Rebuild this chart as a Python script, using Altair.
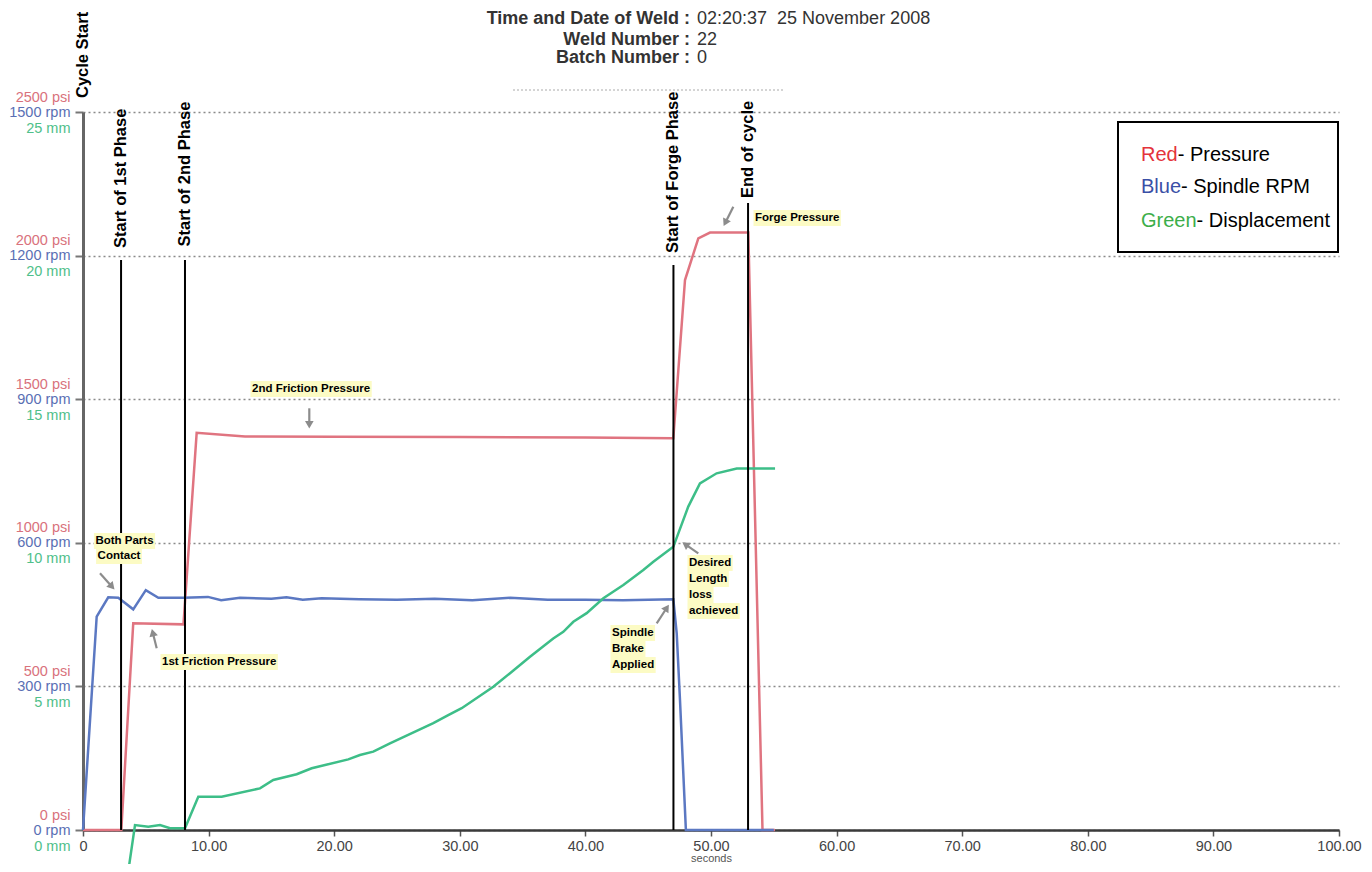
import math
import altair as alt
import pandas as pd

# ---------------- series ----------------
# Red - pressure (psi) against time (seconds)
pressure_s = [0.0, 3.05, 4.0, 8.0, 9.05, 12.9, 20.0, 30.0, 40.0, 47.0, 47.93, 48.99, 49.92, 52.97, 54.1, 55.1]
pressure_psi = [0, 0, 720, 716, 1383, 1370, 1369, 1368, 1367, 1364, 1915, 2060, 2080, 2080, 0, 0]

# Blue - spindle speed (rpm)
rpm_s = [0.0, 1.09, 2.01, 2.81, 4.0, 5.0, 6.0, 8.0, 9.95, 11.0, 12.5, 15.0, 16.2, 17.5, 19.0, 22.0, 25.0,
         28.0, 31.0, 34.0, 37.0, 40.0, 43.0, 45.0, 47.0, 47.27, 47.53, 48.0, 55.0]
rpm_val = [0, 446, 486, 485, 461, 501, 485, 485, 487, 480, 485, 483, 486, 481, 484, 482, 481,
           483, 480, 485, 481, 481, 480, 481, 482, 411, 272, 0, 0]

# Green - displacement (mm)
disp_s = [3.55, 4.14, 5.2, 6.13, 6.93, 8.12, 9.18, 11.04, 14.09, 15.15, 17.01, 18.21, 21.12, 22.05, 23.11,
          24.44, 27.89, 29.08, 30.15, 32.67, 34.0, 35.59, 37.44, 38.24, 39.04, 40.1, 41.43, 43.02, 44.61,
          45.41, 47.0, 48.19, 49.12, 50.45, 52.05, 55.1]
disp_mm = [-1.6, 0.17, 0.11, 0.17, 0.06, 0.06, 1.16, 1.16, 1.45, 1.74, 1.94, 2.15, 2.46, 2.61, 2.73,
           3.02, 3.72, 4.00, 4.24, 4.99, 5.46, 6.03, 6.67, 6.90, 7.25, 7.55, 8.07, 8.53, 9.05,
           9.34, 9.86, 11.26, 12.07, 12.42, 12.59, 12.59]

# ---------------- ticks ----------------
psi_ticks = [0, 500, 1000, 1500, 2000, 2500]
rpm_ticks = [0, 300, 600, 900, 1200, 1500]
mm_ticks = [0, 5, 10, 15, 20, 25]
sec_ticks = [0, 10, 20, 30, 40, 50, 60, 70, 80, 90, 100]

# ---------------- events ----------------
event_s = [0.0, 3.03, 8.12, 47.01, 52.95]
event_names = ["Cycle Start", "Start of 1st Phase", "Start of 2nd Phase", "Start of Forge Phase", "End of cycle"]

# ---------------- header / legend / notes text ----------------
header_keys = ["Time and Date of Weld :", "Weld Number :", "Batch Number :"]
header_vals = ["02:20:37\u00a0\u00a025 November 2008", "22", "0"]
legend_words = ["Red", "Blue", "Green"]
legend_rest = ["- Pressure", "- Spindle RPM", "- Displacement"]
note_lines = ["Both Parts", "Contact", "1st Friction Pressure", "2nd Friction Pressure", "Forge Pressure",
              "Spindle", "Brake", "Applied", "Desired", "Length", "loss", "achieved"]

# ---------------- styling / layout (pixels inside the plot area) ----------------
W, H = 1256, 718
FONT = "Liberation Sans"
RED, BLUE, GREEN = "#e07480", "#5b78c2", "#3dbe88"
RED_T, BLUE_T, GREEN_T = "#d9727c", "#5a6fb4", "#4fc08a"

event_line_top = [None, 148, 148, 153, 91]
event_label_bottom = [-14, 136, 134.5, 141, 86]

note_x = [41.5, 36, 79, 169, 672, 529, 529, 529, 606, 606, 606, 606]
note_y = [429, 444, 550, 277, 106, 521, 537, 553, 451, 467, 483, 499]
note_align = ["center", "center", "left", "left", "left", "left", "left", "left", "left", "left", "left", "left"]

# arrows: tail -> head (pixels inside the plot)
arrow_tail = [(17, 461.3), (73.7, 536.3), (226.3, 296.3), (650.3, 94.7), (573.7, 511.3), (615.3, 441.3)]
arrow_head = [(32, 478), (68.7, 516.3), (226.3, 317.3), (640.3, 114.7), (586.3, 492), (598.7, 429.7)]

ARIAL_BOLD = {"a": .556, "b": .611, "c": .556, "d": .611, "e": .556, "f": .333, "g": .611, "h": .611,
              "i": .278, "k": .556, "l": .278, "m": .889, "n": .611, "o": .611, "p": .611, "r": .389,
              "s": .556, "t": .333, "u": .611, "v": .556, "B": .722, "C": .722, "D": .722, "F": .611,
              "L": .611, "P": .667, "S": .667, "A": .722, "1": .556, "2": .556, " ": .278}
NOTE_SIZE = 11.5


def text_w(s, size):
    return sum(ARIAL_BOLD.get(c, .6) for c in s) * size


# ---------------- tables ----------------
pressure_df = pd.DataFrame({"s": pressure_s, "v": pressure_psi})
rpm_df = pd.DataFrame({"s": rpm_s, "v": rpm_val})
disp_df = pd.DataFrame({"s": disp_s, "v": disp_mm})

ev_lines = pd.DataFrame({"s": event_s[1:], "top": event_line_top[1:], "bot": [H] * 4})
ev_labels = pd.DataFrame({"s": event_s, "y": event_label_bottom, "t": event_names})

notes = pd.DataFrame({"x": note_x, "y": note_y, "t": note_lines, "a": note_align})
hl_rows = []
for x, y, t, a in zip(note_x, note_y, note_lines, note_align):
    w = text_w(t, NOTE_SIZE)
    x0 = x - w / 2 if a == "center" else x
    hl_rows.append({"x": x0 - 1.5, "x2": x0 + w + 1.5, "y": y - 8, "y2": y + 8})
hl_df = pd.DataFrame(hl_rows)

shaft_rows, head_rows = [], []
for (tx, ty), (hx, hy) in zip(arrow_tail, arrow_head):
    dx, dy = hx - tx, hy - ty
    L = math.hypot(dx, dy)
    ux, uy = dx / L, dy / L
    cx, cy = hx - ux * 4.5, hy - uy * 4.5
    shaft_rows.append({"x": tx, "y": ty, "x2": cx, "y2": cy})
    ang = (math.degrees(math.atan2(dx, -dy)) + 360) % 360
    head_rows.append({"x": cx, "y": cy, "ang": ang})
shaft_df = pd.DataFrame(shaft_rows)
head_df = pd.DataFrame(head_rows)

header_df = pd.DataFrame({"k": header_keys, "v": header_vals, "y": [-93.5, -72.5, -54]})
legend_df = pd.DataFrame({"w": legend_words, "r": legend_rest, "y": [43, 75, 109],
                          "c": [0, 1, 2]})

# ---------------- encodings ----------------
x_axis = alt.Axis(values=sec_ticks, labelExpr="datum.value == 0 ? '0' : format(datum.value, '.2f')",
                  title="seconds", titleFont=FONT, titleFontSize=11, titleFontWeight="normal",
                  titleColor="#555", titlePadding=0, labelFont=FONT, labelFontSize=14.5,
                  labelColor="#444", labelFlush=False, labelPadding=3, tickSize=6, tickColor="#555",
                  tickWidth=1.5, domainColor="#3a3a3a", domainWidth=2.5, grid=False, zindex=0)
x_scale = alt.Scale(domain=[0, 100], nice=False, zero=False)


def y_axis(values, unit, color, offset, ticks_visible=False, domain=False, grid=False):
    return alt.Axis(orient="left", values=values, labelExpr="datum.value + ' " + unit + "'",
                    labelColor=color, labelOffset=offset, labelFont=FONT, labelFontSize=14.5,
                    labelPadding=5, labelAlign="right", labelBaseline="middle",
                    ticks=True, tickSize=8, tickWidth=2, tickColor="#777",
                    tickOpacity=1 if ticks_visible else 0,
                    domain=domain, domainColor="#666", domainWidth=3,
                    grid=grid, gridColor="#8a8a8a", gridDash=[2, 3], gridWidth=1.5,
                    title=None, zindex=0)


psi_layer = alt.Chart(pressure_df).mark_line(color=RED, strokeWidth=2.5).encode(
    x=alt.X("s:Q", scale=x_scale, axis=x_axis),
    y=alt.Y("v:Q", scale=alt.Scale(domain=[0, 2500], nice=False),
            axis=y_axis(psi_ticks, "psi", RED_T, -15)),
)
rpm_layer = alt.Chart(rpm_df).mark_line(color=BLUE, strokeWidth=2.5).encode(
    x=alt.X("s:Q", scale=x_scale),
    y=alt.Y("v:Q", scale=alt.Scale(domain=[0, 1500], nice=False),
            axis=y_axis(rpm_ticks, "rpm", BLUE_T, 0, ticks_visible=True, domain=True)),
)
mm_layer = alt.Chart(disp_df).mark_line(color=GREEN, strokeWidth=2.5).encode(
    x=alt.X("s:Q", scale=x_scale),
    y=alt.Y("v:Q", scale=alt.Scale(domain=[0, 25], nice=False),
            axis=y_axis(mm_ticks, "mm", GREEN_T, 16, grid=True)),
)

px = lambda f: alt.X(f, scale=None, axis=None)
py = lambda f: alt.Y(f, scale=None, axis=None)

event_rules = alt.Chart(ev_lines).mark_rule(color="black", strokeWidth=2).encode(
    x=alt.X("s:Q", scale=x_scale), y=py("top:Q"), y2="bot:Q")
event_text = alt.Chart(ev_labels).mark_text(
    angle=270, align="left", baseline="middle", font=FONT, fontSize=16.5, fontWeight="bold", color="black"
).encode(x=alt.X("s:Q", scale=x_scale), y=py("y:Q"), text="t:N")

highlight = alt.Chart(hl_df).mark_rect(color="#fcfbc4").encode(
    x=px("x:Q"), x2="x2:Q", y=py("y:Q"), y2="y2:Q")
note_base = alt.Chart(notes)
note_c = note_base.transform_filter("datum.a == 'center'").mark_text(
    align="center", baseline="middle", font=FONT, fontSize=NOTE_SIZE, fontWeight="bold", color="black"
).encode(x=px("x:Q"), y=py("y:Q"), text="t:N")
note_l = note_base.transform_filter("datum.a == 'left'").mark_text(
    align="left", baseline="middle", font=FONT, fontSize=NOTE_SIZE, fontWeight="bold", color="black"
).encode(x=px("x:Q"), y=py("y:Q"), text="t:N")

arrow_shaft = alt.Chart(shaft_df).mark_rule(color="#8c8c8c", strokeWidth=2.2).encode(
    x=px("x:Q"), y=py("y:Q"), x2="x2:Q", y2="y2:Q")
arrow_head_l = alt.Chart(head_df).mark_point(shape="triangle-up", filled=True, color="#8c8c8c",
                                             opacity=1, size=75).encode(
    x=px("x:Q"), y=py("y:Q"), angle=alt.Angle("ang:Q", scale=None))

header_k = alt.Chart(header_df).mark_text(align="right", baseline="middle", font=FONT, fontSize=18,
                                          fontWeight="bold", color="#333").encode(
    x=alt.value(607), y=py("y:Q"), text="k:N")
header_v = alt.Chart(header_df).mark_text(align="left", baseline="middle", font=FONT, fontSize=18,
                                          color="#333").encode(
    x=alt.value(614), y=py("y:Q"), text="v:N")
header_rule = alt.Chart(pd.DataFrame({"x": [430], "x2": [702], "y": [-22]})).mark_rule(
    color="#aaa", strokeDash=[2, 2], strokeWidth=1).encode(x=px("x:Q"), x2="x2:Q", y=py("y:Q"))

legend_box = alt.Chart(pd.DataFrame({"x": [1035], "x2": [1255], "y": [10], "y2": [140]})).mark_rect(
    fill="white", stroke="black", strokeWidth=2).encode(x=px("x:Q"), x2="x2:Q", y=py("y:Q"), y2="y2:Q")
legend_word = alt.Chart(legend_df).mark_text(align="left", baseline="middle", font=FONT, fontSize=20).encode(
    x=alt.value(1058), y=py("y:Q"), text="w:N",
    color=alt.Color("c:O", scale=alt.Scale(domain=[0, 1, 2], range=["#e4333b", "#3a4fa6", "#3cae4a"]),
                    legend=None))
legend_rest_l = alt.Chart(legend_df).transform_calculate(
    xo="datum.c == 0 ? 1094.7 : (datum.c == 1 ? 1098 : 1113.6)"
).mark_text(align="left", baseline="middle", font=FONT, fontSize=20, color="black").encode(
    x=px("xo:Q"), y=py("y:Q"), text="r:N")

chart = alt.layer(
    psi_layer, rpm_layer, mm_layer,
    event_rules, event_text,
    highlight, note_c, note_l, arrow_shaft, arrow_head_l,
    header_k, header_v, header_rule,
    legend_box, legend_word, legend_rest_l,
).resolve_scale(y="independent").properties(
    width=W, height=H,
    padding={"left": 75, "top": 104, "right": 25, "bottom": 34},
    autosize=alt.AutoSizeParams(type="none"),
    background="white",
).configure_view(stroke=None)

chart.save("out.html", embed_options={"renderer": "svg", "actions": False})
